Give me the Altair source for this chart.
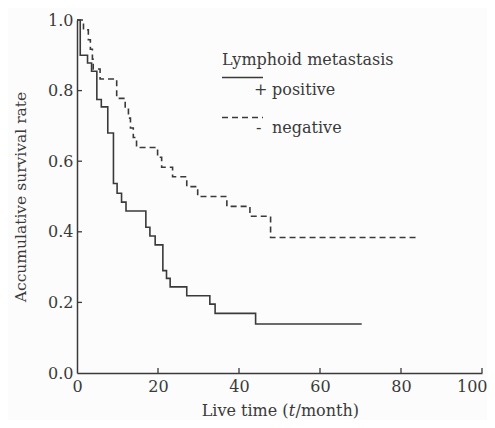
import altair as alt
import pandas as pd

# Kaplan-Meier curves (time in months, survival rate)
pos_t = [0, 0.8, 2.6, 3.6, 4.9, 6.0, 7.6, 9.0, 9.9, 11.0, 12.1, 17.0, 18.0, 19.3,
         21.2, 22.1, 23.0, 27.1, 32.8, 34.1, 44.1, 70.3]
pos_s = [1.0, 0.90, 0.878, 0.855, 0.775, 0.754, 0.68, 0.537, 0.509, 0.484, 0.459,
         0.413, 0.388, 0.363, 0.29, 0.268, 0.244, 0.219, 0.195, 0.169, 0.139, 0.139]
neg_t = [0, 1.6, 2.8, 3.3, 3.8, 4.0, 5.7, 9.8, 11.9, 12.7, 13.2, 13.9, 14.7, 19.9,
         20.9, 23.6, 27.1, 29.8, 37.0, 42.7, 47.8, 84.3]
neg_s = [1.0, 0.972, 0.944, 0.917, 0.889, 0.861, 0.833, 0.778, 0.750, 0.722, 0.694,
         0.667, 0.639, 0.611, 0.583, 0.556, 0.528, 0.500, 0.472, 0.444, 0.384, 0.384]

x_ticks = [0, 20, 40, 60, 80, 100]
y_ticks = [0.0, 0.2, 0.4, 0.6, 0.8, 1.0]
x_inner_ticks = [20, 40, 60, 80, 100]
y_inner_ticks = [0.2, 0.4, 0.6, 0.8]

legend_title = "Lymphoid metastasis"
legend_pos = "positive"
legend_neg = "negative"
x_title_parts = ["Live time (", "t", "/month)"]
y_title = "Accumulative survival rate"

FONT = "DejaVu Serif"
INK = "#3a3a3a"
W, H = 405, 353

df = pd.DataFrame({
    "t": pos_t + neg_t,
    "s": pos_s + neg_s,
    "group": ["positive"] * len(pos_t) + ["negative"] * len(neg_t),
})

xs = alt.Scale(domain=[0, 100], nice=False)
ys = alt.Scale(domain=[0, 1], nice=False)

base = alt.Chart(df)

pos_line = base.transform_filter(alt.datum.group == "positive").mark_line(
    interpolate="step-after", color=INK, strokeWidth=1.6
).encode(
    x=alt.X("t:Q", scale=xs, axis=alt.Axis(values=x_ticks, title=None, format="d")),
    y=alt.Y("s:Q", scale=ys, axis=alt.Axis(values=y_ticks, title=y_title, format=".1f")),
)
neg_line = base.transform_filter(alt.datum.group == "negative").mark_line(
    interpolate="step-after", color=INK, strokeWidth=1.6, strokeDash=[6, 4]
).encode(x=alt.X("t:Q", scale=xs), y=alt.Y("s:Q", scale=ys))

xt = alt.Chart(pd.DataFrame({"v": x_inner_ticks})).mark_rule(color=INK, strokeWidth=1.3).encode(
    x=alt.X("v:Q", scale=xs), y=alt.value(H), y2=alt.value(H - 5))
yt = alt.Chart(pd.DataFrame({"v": y_inner_ticks})).mark_rule(color=INK, strokeWidth=1.3).encode(
    y=alt.Y("v:Q", scale=ys), x=alt.value(0), x2=alt.value(5))

one = pd.DataFrame({"k": [0]})

def txt(s, x, y, size=16, align="left", style="normal"):
    return alt.Chart(one).mark_text(
        text=s, font=FONT, fontSize=size, color=INK, align=align,
        baseline="alphabetic", fontStyle=style
    ).encode(x=alt.value(x), y=alt.value(y))

leg_title = txt(legend_title, 145, 45)
leg_solid = alt.Chart(one).mark_rule(color=INK, strokeWidth=1.6).encode(
    x=alt.value(145), x2=alt.value(186), y=alt.value(57.5))
leg_plus = txt("+", 177, 75)
leg_pos = txt(legend_pos, 195, 75)
leg_dash = alt.Chart(one).mark_rule(color=INK, strokeWidth=1.6, strokeDash=[6, 4]).encode(
    x=alt.value(145), x2=alt.value(186), y=alt.value(97.5))
leg_minus = txt("-", 179, 113)
leg_neg = txt(legend_neg, 195, 113)

# x-axis title with italic "t"
XT, YT = 215, 396
xt1 = txt(x_title_parts[0], XT - 3.5, YT, align="right")
xt2 = txt(x_title_parts[1], XT, YT, align="center", style="italic")
xt3 = txt(x_title_parts[2], XT + 3.5, YT, align="left")

chart = alt.layer(
    pos_line, neg_line, xt, yt, leg_title, leg_solid, leg_plus, leg_pos,
    leg_dash, leg_minus, leg_neg, xt1, xt2, xt3
).properties(
    width=W, height=H,
    autosize=alt.AutoSizeParams(type="none"),
    padding={"left": 69, "top": 12, "right": 5, "bottom": 47},
    background="#fcfcfc",
).configure_view(stroke=None).configure_axis(
    domainColor=INK, domainWidth=1.5, ticks=False, grid=False, labelFlush=False,
    labelFont=FONT, labelFontSize=16, labelColor=INK,
    titleFont=FONT, titleFontSize=15.5, titleColor=INK, titleFontWeight="normal",
).configure_axisX(labelPadding=5, labelFlush=True, labelFlushOffset=5).configure_axisY(
    labelPadding=4, titlePadding=19)

chart.save("out.html", embed_options={"renderer": "svg", "actions": False})
